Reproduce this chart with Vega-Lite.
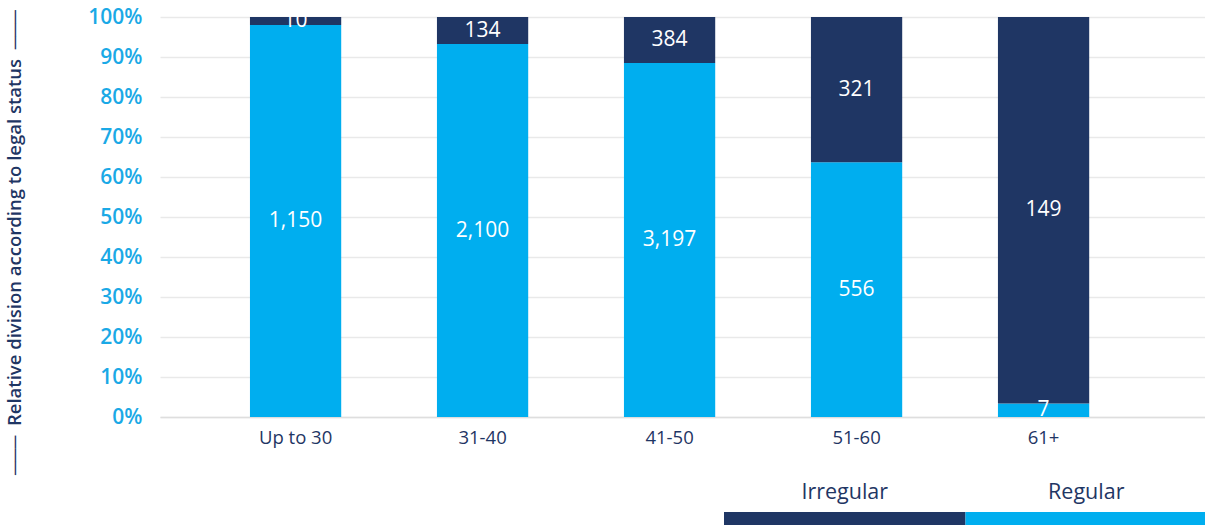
{
  "$schema": "https://vega.github.io/schema/vega-lite/v6.json",
  "padding": {"left": 4, "top": 6, "right": 0, "bottom": 0},
  "config": {
    "font": "Open Sans",
    "view": {"stroke": null}
  },
  "resolve": {"scale": {"x": "independent", "color": "shared"}},
  "bounds": "flush",
  "spacing": 95,
  "vconcat": [
    {
      "width": 1047,
      "height": 400,
      "data": {
        "values": [
          {"age": "Up to 30", "status": "Regular", "count": 1150, "share": 98.0},
          {"age": "Up to 30", "status": "Irregular", "count": 10, "share": 2.0},
          {"age": "31-40", "status": "Regular", "count": 2100, "share": 93.25},
          {"age": "31-40", "status": "Irregular", "count": 134, "share": 6.75},
          {"age": "41-50", "status": "Regular", "count": 3197, "share": 88.5},
          {"age": "41-50", "status": "Irregular", "count": 384, "share": 11.5},
          {"age": "51-60", "status": "Regular", "count": 556, "share": 63.7},
          {"age": "51-60", "status": "Irregular", "count": 321, "share": 36.3},
          {"age": "61+", "status": "Regular", "count": 7, "share": 3.4},
          {"age": "61+", "status": "Irregular", "count": 149, "share": 96.6}
        ]
      },
      "encoding": {
        "x": {
          "field": "age",
          "type": "nominal",
          "sort": ["Up to 30", "31-40", "41-50", "51-60", "61+"],
          "scale": {"paddingInner": 0.512, "paddingOuter": 0.5555, "align": 0.433},
          "axis": {
            "title": null,
            "labelAngle": 0,
            "ticks": false,
            "domainColor": "#dedede",
            "domainWidth": 1.5,
            "labelColor": "#1f3664",
            "labelFontSize": 18.5,
            "labelPadding": 11,
            "grid": false
          }
        },
        "y": {
          "field": "share",
          "type": "quantitative",
          "stack": "normalize",
          "axis": {
            "values": [0, 0.1, 0.2, 0.3, 0.4, 0.5, 0.6, 0.7, 0.8, 0.9, 1],
            "format": ".0%",
            "domain": false,
            "ticks": false,
            "gridColor": "#e9e9e9",
            "gridWidth": 1.3,
            "labelColor": "#1aa9e6",
            "labelFontSize": 21,
            "labelFontWeight": 600,
            "labelPadding": 18,
            "title": "\u2500\u2500\u2500\u00a0\u00a0Relative division according to legal status\u00a0\u00a0\u2500\u2500\u2500",
            "titleFontSize": 18.5,
            "titleFontWeight": 600,
            "titleColor": "#1f3664",
            "titleAngle": -90,
            "titleAlign": "center",
            "titleBaseline": "alphabetic",
            "titleX": -140,
            "titleY": 225
          }
        },
        "color": {
          "field": "status",
          "type": "nominal",
          "scale": {"domain": ["Irregular", "Regular"], "range": ["#1f3664", "#00aeef"]},
          "legend": null
        },
        "order": {"field": "status", "sort": "descending"}
      },
      "layer": [
        {"mark": {"type": "bar"}},
        {
          "mark": {"type": "text", "color": "white", "fontSize": 21, "baseline": "middle"},
          "encoding": {
            "y": {"field": "share", "type": "quantitative", "stack": "normalize", "bandPosition": 0.5},
            "text": {"field": "count", "type": "quantitative", "format": ","},
            "color": {"value": "white"}
          }
        }
      ]
    },
    {
      "width": 1047,
      "height": 13,
      "data": {"values": [{"status": "Irregular"}, {"status": "Regular"}]},
      "encoding": {
        "x": {
          "field": "status",
          "type": "nominal",
          "sort": ["Irregular", "Regular"],
          "scale": {"paddingInner": 0, "paddingOuter": 0, "rangeMin": 564},
          "axis": null
        }
      },
      "layer": [
        {
          "mark": {"type": "rect"},
          "encoding": {
            "color": {"field": "status", "type": "nominal", "legend": null}
          }
        },
        {
          "mark": {"type": "text", "fontSize": 21.5, "color": "#1f3664", "baseline": "middle", "dy": -26},
          "encoding": {"text": {"field": "status", "type": "nominal"}}
        }
      ]
    }
  ]
}
